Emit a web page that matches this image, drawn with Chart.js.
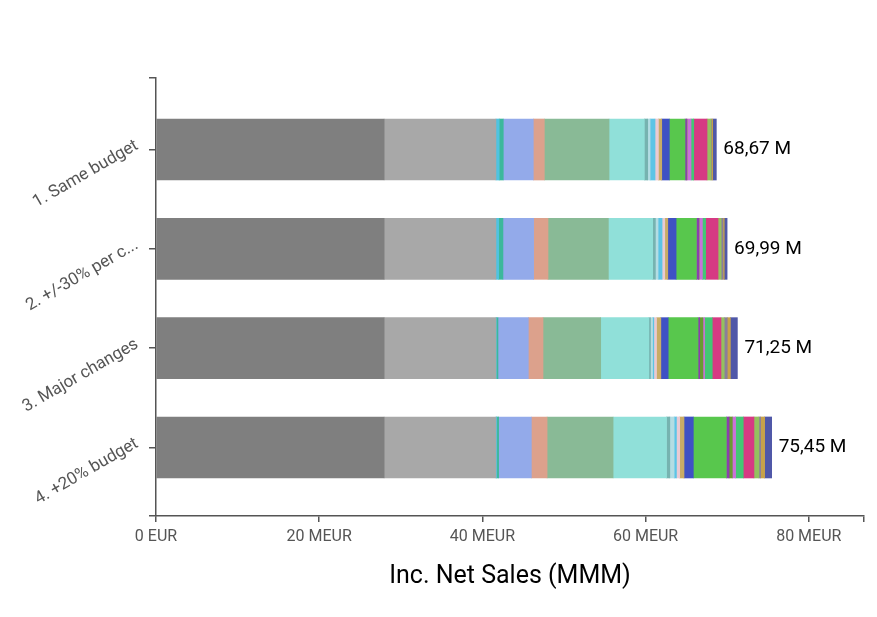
<!DOCTYPE html>
<html>
<head>
<meta charset="utf-8">
<title>Inc. Net Sales</title>
<script src="https://cdn.jsdelivr.net/npm/chart.js@4.4.1/dist/chart.umd.min.js"></script>
<style>
  html, body { margin: 0; padding: 0; background: #fff; }
  #wrap { width: 877px; height: 617px; }
</style>
</head>
<body>
<div id="wrap"><canvas id="chart" width="877" height="617"></canvas></div>
<script>
// scenarios (one bar each)
const scenarios = ["1. Same budget", "2. +/-30% per c...", "3. Major changes", "4. +20% budget"];

// segment values per scenario, MEUR, read left to right off the bars
const sameBudget   = [27.96, 13.70, 0.40, 0.50, 3.68, 1.35, 7.93, 4.33, 0.41, 0.29, 0.61, 0.41, 0.41, 0.93, 1.92, 0.20, 0.05, 0.49, 0.33, 1.63, 0.48, 0.05, 0.16, 0.45];
const plusMinus30  = [27.96, 13.70, 0.33, 0.53, 3.76, 1.76, 7.40, 5.43, 0.33, 0.33, 0.49, 0.33, 0.37, 1.02, 2.49, 0.28, 0.05, 0.40, 0.40, 1.52, 0.38, 0.22, 0.16, 0.35];
const majorChanges = [27.96, 13.70, 0.05, 0.20, 3.72, 1.80, 7.07, 5.90, 0.20, 0.25, 0.16, 0.33, 0.53, 0.90, 3.66, 0.20, 0.40, 0.20, 0.94, 1.07, 0.40, 0.37, 0.38, 0.86];
const plus20Budget = [27.96, 13.70, 0.10, 0.23, 4.01, 1.93, 8.09, 6.55, 0.40, 0.53, 0.28, 0.40, 0.53, 1.14, 4.05, 0.33, 0.40, 0.40, 0.94, 1.31, 0.61, 0.21, 0.49, 0.86];

// x axis tick labels
const xTicks = [0, 20, 40, 60, 80];

const segmentColors = [
  "#7f7f7f", "#a8a8a8", "#4fc3e0", "#3cb89b", "#93aaea", "#dca18c", "#89ba96", "#90e0d9",
  "#76b3b0", "#b3dde3", "#5cc4e6", "#e9cad3", "#c9ac66", "#3f51c4", "#58c74d", "#8b3fae",
  "#6a9a32", "#cb6fd9", "#43c774", "#d63a83", "#94c15f", "#8a7f9a", "#c7a24a", "#5058a8"
];

const rows = [sameBudget, plusMinus30, majorChanges, plus20Budget];
const totals = rows.map(r => r.reduce((a, b) => a + b, 0));
const xMax = Math.max(...totals) * 1.15;
// band padding like the original: bars sit inside [-0.72, 3.69]
const yMin = -0.72, yMax = 3.69;

const datasets = segmentColors.map((color, k) => ({
  label: "Segment " + (k + 1),
  data: rows.map((r, i) => ({ x: r[k], y: i })),
  backgroundColor: color,
  borderWidth: 0,
  barThickness: 61,
  stack: "total"
}));

const totalLabels = {
  id: "totalLabels",
  afterDatasetsDraw(chart) {
    const { ctx, scales: { x, y } } = chart;
    ctx.save();
    ctx.font = "19px Roboto";
    ctx.fillStyle = "#000";
    ctx.textBaseline = "middle";
    totals.forEach((t, i) => {
      ctx.fillText(t.toFixed(2).replace(".", ",") + " M", x.getPixelForValue(t) + 7, y.getPixelForValue(i));
    });
    ctx.restore();
  }
};

Chart.defaults.font.family = "Roboto";

new Chart(document.getElementById("chart"), {
  type: "bar",
  data: { datasets: datasets },
  plugins: [totalLabels],
  options: {
    indexAxis: "y",
    responsive: false,
    animation: false,
    layout: { padding: { top: 78, right: 13, left: 0, bottom: 0 } },
    plugins: { legend: { display: false }, tooltip: { enabled: false } },
    scales: {
      x: {
        type: "linear",
        stacked: true,
        min: 0,
        max: xMax,
        afterBuildTicks: s => { s.ticks = xTicks.concat([xMax]).map(v => ({ value: v })); },
        afterFit: s => { s.height = 101; },
        ticks: {
          autoSkip: false,
          maxRotation: 0,
          padding: 5,
          color: "#555",
          font: { size: 16 },
          callback: v => xTicks.includes(v) ? (v === 0 ? "0 EUR" : v + " MEUR") : ""
        },
        grid: { drawOnChartArea: false, drawTicks: true, tickLength: 6, color: "#555", lineWidth: 1.5 },
        border: { color: "#555", width: 1.5 },
        title: { display: true, text: "Inc. Net Sales (MMM)", color: "#000", font: { size: 25 }, padding: { top: 10, bottom: 25 } }
      },
      y: {
        type: "linear",
        stacked: true,
        reverse: true,
        offset: false,
        min: yMin,
        max: yMax,
        afterBuildTicks: s => { s.ticks = [yMin, 0, 1, 2, 3, yMax].map(v => ({ value: v })); },
        afterFit: s => { s.width = 156; },
        ticks: {
          autoSkip: false,
          minRotation: 30,
          maxRotation: 30,
          padding: 12,
          labelOffset: -5,
          color: "#555",
          font: { size: 17 },
          callback: v => Number.isInteger(v) ? scenarios[v] : ""
        },
        grid: { offset: false, drawOnChartArea: false, drawTicks: true, tickLength: 7, color: "#555", lineWidth: 1.5 },
        border: { color: "#555", width: 1.5 }
      }
    }
  }
});
</script>
</body>
</html>
